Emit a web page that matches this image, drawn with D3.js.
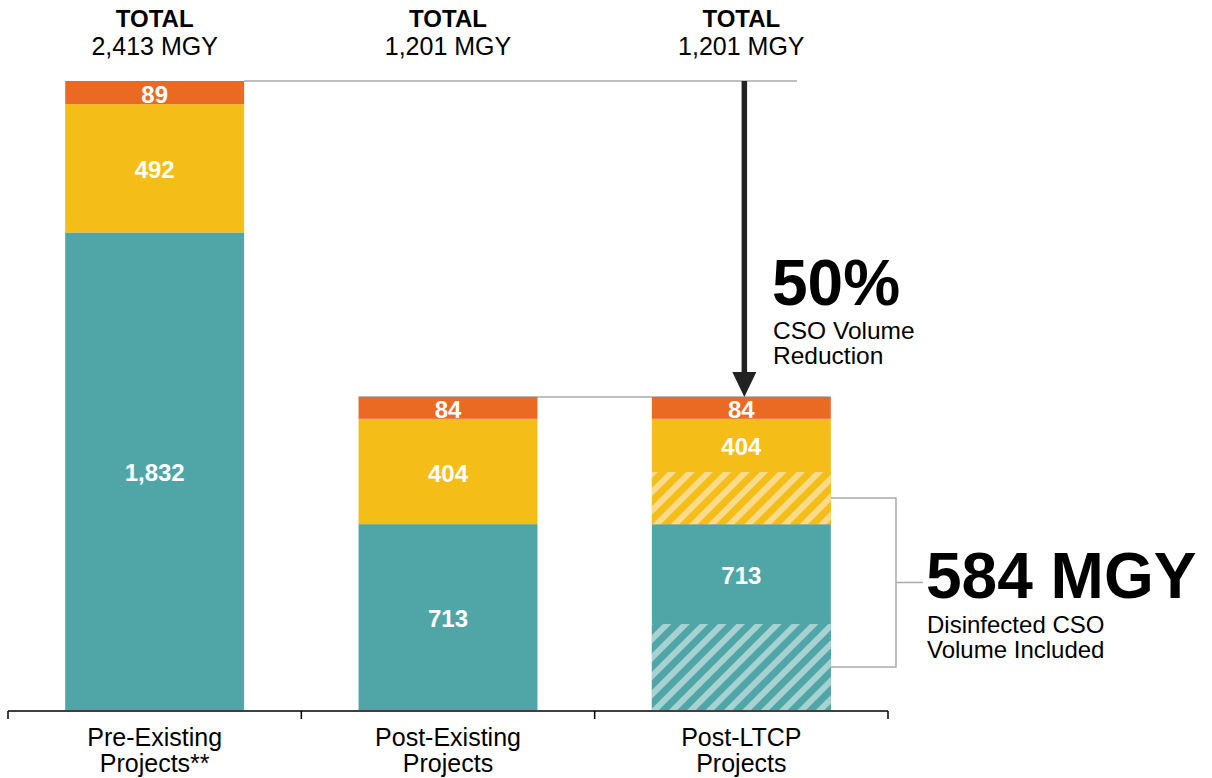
<!DOCTYPE html>
<html>
<head>
<meta charset="utf-8">
<script src="https://cdn.jsdelivr.net/npm/d3@7"></script>
<style>
  html, body { margin: 0; padding: 0; background: #fff; }
  svg { display: block; font-family: "Liberation Sans", Arial, Helvetica, sans-serif; }
</style>
</head>
<body>
<svg id="chart" width="1212" height="778"></svg>
<script>
// CSO volume by scenario (million gallons per year)
const categories = ["Pre-Existing Projects", "Post-Existing Projects", "Post-LTCP Projects"];
const categoryLines = [["Pre-Existing", "Projects**"], ["Post-Existing", "Projects"], ["Post-LTCP", "Projects"]];
const tealValues = [1832, 713, 713];
const yellowValues = [492, 404, 404];
const orangeValues = [89, 84, 84];
const totalValues = [2413, 1201, 1201];
// disinfected portions shown hatched (teal part, yellow part)
const disinfectedTeal = [0, 0, 330];
const disinfectedYellow = [0, 0, 200];
const reductionLabel = "50%";
const disinfectedLabel = "584 MGY";

const colors = { teal: "#50a6a7", yellow: "#f5bd18", orange: "#eb6a23",
                 tealLight: "#a8d2d2", yellowLight: "#f9db8b" };

const svg = d3.select("#chart");
const x = d3.scaleBand().domain(categories).range([8, 888]).paddingInner(0.39).paddingOuter(0.195);
const y = d3.scaleLinear().domain([0, 2413]).range([710, 81]);
const cx = i => x(categories[i]) + x.bandwidth() / 2;

// stripe patterns for disinfected volume
const defs = svg.append("defs");
[["hatchTeal", colors.teal, colors.tealLight], ["hatchYellow", colors.yellow, colors.yellowLight]].forEach(([id, base, light]) => {
  const p = defs.append("pattern").attr("id", id).attr("patternUnits", "userSpaceOnUse")
    .attr("width", 13).attr("height", 13).attr("patternTransform", "rotate(45)");
  p.append("rect").attr("width", 13).attr("height", 13).attr("fill", base);
  p.append("rect").attr("width", 6).attr("height", 13).attr("fill", light);
});

// reference lines at the totals
svg.append("line").attr("x1", x(categories[0]) + x.bandwidth()).attr("x2", 797)
  .attr("y1", y(totalValues[0])).attr("y2", y(totalValues[0]))
  .attr("stroke", "#aaa").attr("stroke-width", 1.5);
svg.append("line").attr("x1", x(categories[1])).attr("x2", x(categories[2]) + x.bandwidth())
  .attr("y1", y(totalValues[1])).attr("y2", y(totalValues[1]))
  .attr("stroke", "#aaa").attr("stroke-width", 1.5);

// stacked bars
const segs = [];
categories.forEach((c, i) => {
  const t = tealValues[i], yl = yellowValues[i], o = orangeValues[i];
  segs.push({ c, y0: 0, y1: t, fill: colors.teal });
  segs.push({ c, y0: t, y1: t + yl, fill: colors.yellow });
  segs.push({ c, y0: t + yl, y1: t + yl + o, fill: colors.orange });
  if (disinfectedTeal[i] > 0) segs.push({ c, y0: 0, y1: disinfectedTeal[i], fill: "url(#hatchTeal)" });
  if (disinfectedYellow[i] > 0) segs.push({ c, y0: t, y1: t + disinfectedYellow[i], fill: "url(#hatchYellow)" });
});
svg.append("g").selectAll("rect").data(segs).join("rect")
  .attr("x", d => x(d.c)).attr("width", x.bandwidth())
  .attr("y", d => y(d.y1)).attr("height", d => y(d.y0) - y(d.y1))
  .attr("fill", d => d.fill);

// value labels inside segments (centered on the solid part)
const fmt = d3.format(",");
const labels = [];
categories.forEach((c, i) => {
  const t = tealValues[i], yl = yellowValues[i], o = orangeValues[i];
  labels.push({ i, v: t, mid: (disinfectedTeal[i] + t) / 2 });
  labels.push({ i, v: yl, mid: t + (disinfectedYellow[i] + yl) / 2 });
  labels.push({ i, v: o, mid: t + yl + o / 2 });
});
svg.append("g").selectAll("text").data(labels).join("text")
  .attr("x", d => cx(d.i)).attr("y", d => y(d.mid)).attr("dy", "0.42em")
  .attr("text-anchor", "middle").attr("fill", "#fff")
  .attr("font-weight", "bold").attr("font-size", 24)
  .text(d => fmt(d.v));

// totals above bars
categories.forEach((c, i) => {
  svg.append("text").attr("x", cx(i)).attr("y", 27).attr("text-anchor", "middle")
    .attr("font-weight", "bold").attr("font-size", 24).attr("fill", "#000").text("TOTAL");
  svg.append("text").attr("x", cx(i)).attr("y", 55).attr("text-anchor", "middle")
    .attr("font-size", 25).attr("fill", "#000").text(fmt(totalValues[i]) + " MGY");
});

// x axis with bracket-style ticks
const axisY = 711;
svg.append("line").attr("x1", 8).attr("x2", 888).attr("y1", axisY).attr("y2", axisY)
  .attr("stroke", "#000").attr("stroke-width", 1.5);
const tickXs = [8].concat(categories.map(c => x(c) + x.bandwidth() + x.step() * x.paddingInner() / 2));
tickXs[tickXs.length - 1] = 888;
svg.append("g").selectAll("line").data(tickXs).join("line")
  .attr("x1", d => d).attr("x2", d => d).attr("y1", axisY).attr("y2", axisY + 8)
  .attr("stroke", "#000").attr("stroke-width", 1.5);
categoryLines.forEach((lines, i) => {
  lines.forEach((ln, k) => {
    svg.append("text").attr("x", cx(i)).attr("y", 746 + k * 26).attr("text-anchor", "middle")
      .attr("font-size", 25).attr("fill", "#000").text(ln);
  });
});

// reduction arrow
const ax = cx(2) + 3;
const ayTop = y(totalValues[0]), ayBot = y(totalValues[2]);
svg.append("line").attr("x1", ax).attr("x2", ax).attr("y1", ayTop).attr("y2", ayBot - 22)
  .attr("stroke", "#222").attr("stroke-width", 5.5);
svg.append("path")
  .attr("d", `M${ax - 12},${ayBot - 25} L${ax + 12},${ayBot - 25} L${ax},${ayBot} Z`)
  .attr("fill", "#222");
svg.append("text").attr("x", 772).attr("y", 305).attr("font-weight", "bold")
  .attr("font-size", 64).attr("fill", "#000").text(reductionLabel);
["CSO Volume", "Reduction"].forEach((t, k) => {
  svg.append("text").attr("x", 773).attr("y", 339 + k * 25).attr("font-size", 24.5)
    .attr("fill", "#000").text(t);
});

// bracket for disinfected volume
const bx0 = x(categories[2]) + x.bandwidth();
const bTop = y(tealValues[2] + disinfectedYellow[2] / 2);
const bBot = y(disinfectedTeal[2] / 2);
const bx1 = 896;
svg.append("path")
  .attr("d", `M${bx0},${bTop} H${bx1} V${bBot} H${bx0} M${bx1},${(bTop + bBot) / 2} H${923}`)
  .attr("fill", "none").attr("stroke", "#aaa").attr("stroke-width", 1.5);
svg.append("text").attr("x", 926).attr("y", 598).attr("font-weight", "bold")
  .attr("font-size", 64).attr("fill", "#000").text(disinfectedLabel);
["Disinfected CSO", "Volume Included"].forEach((t, k) => {
  svg.append("text").attr("x", 927).attr("y", 633 + k * 25).attr("font-size", 24)
    .attr("fill", "#000").text(t);
});
</script>
</body>
</html>
